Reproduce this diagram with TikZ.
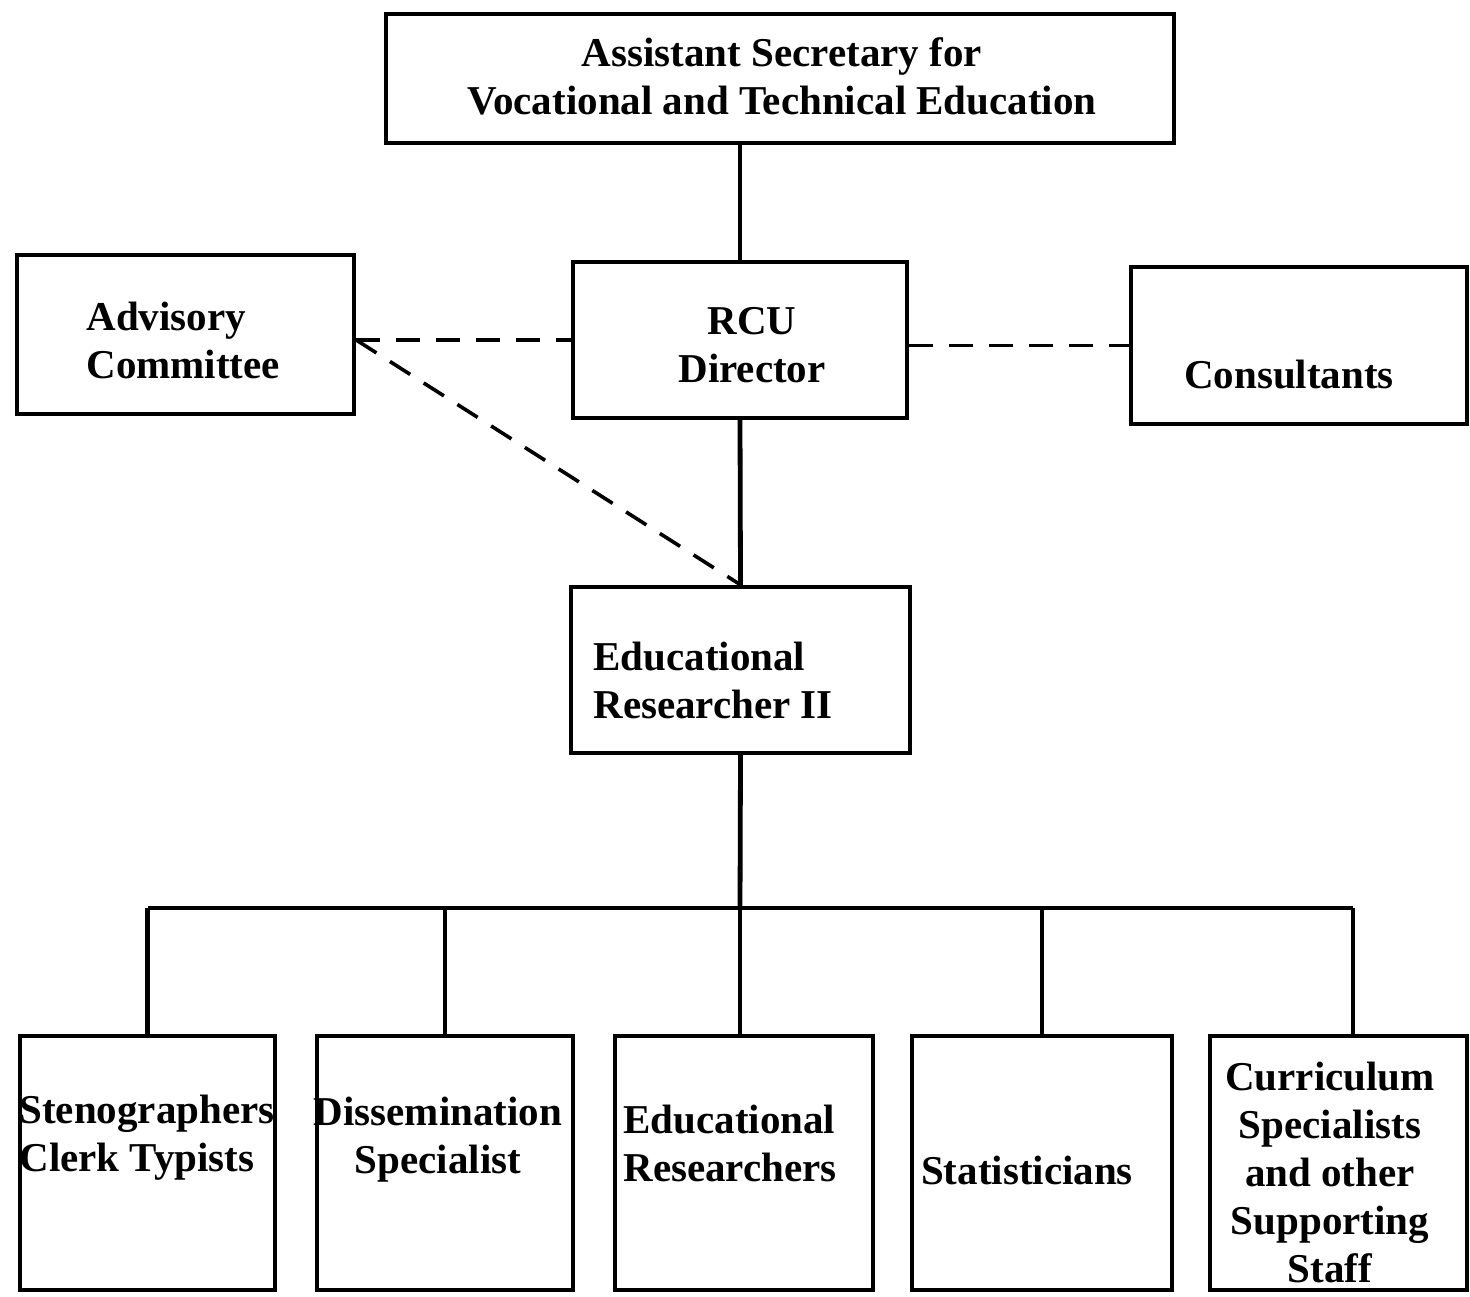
\documentclass[tikz,border=0pt]{standalone}
\usepackage{fontspec}
\setmainfont{Liberation Serif}
\usetikzlibrary{calc}
\begin{document}
\begin{tikzpicture}[x=0.5pt,y=-0.5pt,
  box/.style={draw, line width=2.2pt, inner sep=0pt},
  lbl/.style={inner sep=0pt, font=\fontsize{20.5}{24}\selectfont\bfseries},
  solidline/.style={line width=2.4pt},
  dashline/.style={line width=1.8pt, dash pattern=on 12pt off 8pt}]
\useasboundingbox[fill=white] (0,0) rectangle (1470,1296);
% boxes
\node[box, minimum width=394pt, minimum height=64.5pt] (top) at (780,78.5) {};
\node[box, minimum width=168.5pt, minimum height=79.5pt] (adv) at (185.5,334.5) {};
\node[box, minimum width=167pt, minimum height=78pt] (rcu) at (740,340) {};
\node[box, minimum width=168pt, minimum height=78.5pt] (cons) at (1299,345.5) {};
\node[box, minimum width=169.5pt, minimum height=83pt] (er) at (740.5,670) {};
\node[box, minimum width=127.5pt, minimum height=127pt] (b1) at (147.5,1163) {};
\node[box, minimum width=128pt, minimum height=127pt] (b2) at (445,1163) {};
\node[box, minimum width=129pt, minimum height=127pt] (b3) at (744,1163) {};
\node[box, minimum width=130pt, minimum height=127pt] (b4) at (1042,1163) {};
\node[box, minimum width=128.5pt, minimum height=127pt] (b5) at (1338.5,1163) {};
% texts
\node[lbl, align=center] (ttop) at (782,76) {Assistant Secretary for\\Vocational and Technical Education};
\node[lbl, align=left, anchor=west] (tadv) at (86,340) {Advisory\\Committee};
\node[lbl, align=center] (trcu) at (752,345) {RCU\\Director};
\node[lbl] (tcons) at (1289,375) {Consultants};
\node[lbl, align=left, anchor=west] (ter) at (593,680) {Educational\\Researcher II};
\node[lbl, align=left, anchor=west] (tb1) at (19,1138) {Stenographers\\Clerk Typists};
\node[lbl, align=center] (tb2) at (438,1140) {Dissemination\\Specialist};
\node[lbl, align=left, anchor=west] (tb3) at (623,1143) {Educational\\Researchers};
\node[lbl] (tb4) at (1027,1170) {Statisticians};
\node[lbl, align=center] (tb5) at (1330,1172) {Curriculum\\Specialists\\and other\\Supporting\\Staff};
% solid connectors
\draw[solidline] (top.south -| rcu.north) -- (rcu.north);
\draw[solidline] (rcu.south) -- (er.north);
\coordinate (bus) at (740,908);
\coordinate (b5top) at (1353,1036);
\coordinate (b3top) at (740,1036);
\draw[solidline] (er.south) -- (bus);
\draw[solidline] (b1.north |- bus) -- (b5top |- bus);
\draw[solidline] (b1.north |- bus) -- (b1.north);
\draw[solidline] (b2.north |- bus) -- (b2.north);
\draw[solidline] (bus) -- (b3top);
\draw[solidline] (b4.north |- bus) -- (b4.north);
\draw[solidline] (b5top |- bus) -- (b5top);
% dashed connectors
\draw[dashline] ([yshift=-2.75pt]adv.east) -- (rcu.west);
\draw[dashline] ([yshift=-2.75pt]adv.east) -- (er.north);
\draw[dashline] ([yshift=-2.75pt]rcu.east) -- (cons.west);
\end{tikzpicture}
\end{document}
